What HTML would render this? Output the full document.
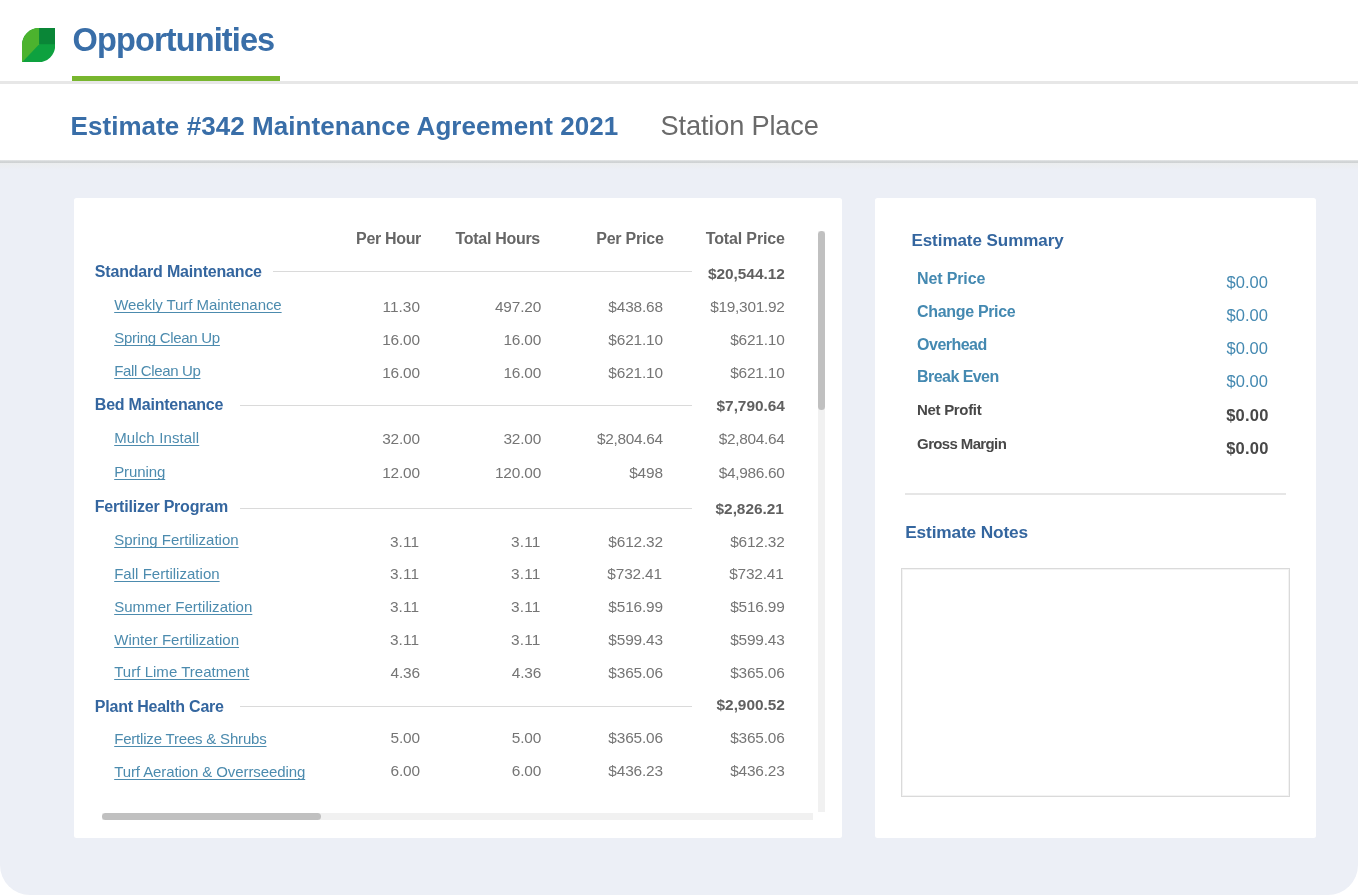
<!DOCTYPE html>
<html lang="en">
<head>
<meta charset="utf-8">
<title>Opportunities</title>
<style>
html,body{margin:0;padding:0;}
body{width:1358px;height:895px;position:relative;overflow:hidden;background:#fff;font-family:"Liberation Sans",sans-serif;}
.abs{position:absolute;}
.t{position:absolute;white-space:pre;display:block;}
a.t{text-decoration-skip-ink:none;}
#bg{left:0;top:162px;width:1358px;height:733px;background:#eceff6;border-radius:0 0 30px 30px;}
#hline1{left:0;top:81.4px;width:1358px;height:2.2px;background:#e7e7e7;}
#gbar{left:72px;top:76px;width:208px;height:5px;background:#78b62e;}
#hline2{left:0;top:160.2px;width:1358px;height:2.7px;background:linear-gradient(#e6e8e9,#d1d4d5 55%,#cfd2d3);}
#hshadow{left:0;top:162.8px;width:1358px;height:7px;background:linear-gradient(#ebedee,#eceff6);}
.card{background:#fff;border-radius:2.5px;}
#card1{left:73.6px;top:197.7px;width:768.5px;height:640.2px;}
#card2{left:875px;top:197.7px;width:441.3px;height:640.2px;}
.hl{height:1.1px;background:#dadada;}
#vtrack{left:818px;top:231px;width:7px;height:581px;background:#f1f1f1;}
#vthumb{left:818px;top:231px;width:7px;height:179px;background:#c0c0c0;border-radius:3.5px;}
#htrack{left:102px;top:812.6px;width:710.5px;height:7px;background:#f1f1f1;}
#hthumb{left:102px;top:812.6px;width:218.7px;height:7px;background:#c0c0c0;border-radius:3.5px;}
#div{left:905px;top:493px;width:381px;height:2px;background:#e6e6e6;}
#notes{left:900.5px;top:568.3px;width:389.6px;height:228.6px;box-sizing:border-box;border:1px solid #dadada;box-shadow:inset 0 0 0 1px #f3f3f3;background:#fff;}
</style>
</head>
<body>
<div id="bg" class="abs"></div>
<div id="hline1" class="abs"></div>
<div id="gbar" class="abs"></div>
<div id="hline2" class="abs"></div>
<div id="hshadow" class="abs"></div>
<svg class="abs" style="left:21.7px;top:27.7px" width="33.2" height="34.4" viewBox="0 0 33.2 34.4">
  <defs><clipPath id="leaf"><path d="M0 34.4 V17 A17 17 0 0 1 17 0 H33.2 V17.4 A17 17 0 0 1 16.2 34.4 Z"/></clipPath></defs>
  <g clip-path="url(#leaf)">
    <rect width="33.2" height="34.4" fill="#0ea13f"/>
    <polygon points="0,0 17.2,0 17.2,16.2 0,34.4" fill="#4cb32e"/>
    <rect x="17.2" y="0" width="16" height="16.2" fill="#0a8637"/>
  </g>
</svg>
<div id="card1" class="abs card"></div>
<div id="card2" class="abs card"></div>
<div class="abs hl" style="left:272.8px;top:271.2px;width:419px"></div>
<div class="abs hl" style="left:240px;top:404.9px;width:451.8px"></div>
<div class="abs hl" style="left:240px;top:508.4px;width:451.8px"></div>
<div class="abs hl" style="left:240px;top:706px;width:451.8px"></div>
<div id="vtrack" class="abs"></div>
<div id="vthumb" class="abs"></div>
<div id="htrack" class="abs"></div>
<div id="hthumb" class="abs"></div>
<div id="div" class="abs"></div>
<div id="notes" class="abs"></div>
<span class="t" style="top:20.54px;font-size:32.5px;font-weight:700;color:#396ea8;line-height:39px;letter-spacing:-0.871px;left:72.60px;">Opportunities</span>
<span class="t" style="top:110.89px;font-size:26px;font-weight:700;color:#396ea8;line-height:31px;letter-spacing:0.064px;left:70.50px;">Estimate #342 Maintenance Agreement 2021</span>
<span class="t" style="top:109.08px;font-size:27.2px;font-weight:400;color:#6a6a6a;line-height:33px;letter-spacing:-0.160px;left:660.60px;">Station Place</span>
<span class="t" style="top:228.86px;font-size:16px;font-weight:700;color:#666666;line-height:19px;letter-spacing:-0.340px;right:937.04px;">Per Hour</span>
<span class="t" style="top:228.86px;font-size:16px;font-weight:700;color:#666666;line-height:19px;letter-spacing:-0.300px;right:818.10px;">Total Hours</span>
<span class="t" style="top:228.86px;font-size:16px;font-weight:700;color:#666666;line-height:19px;letter-spacing:-0.224px;right:694.42px;">Per Price</span>
<span class="t" style="top:228.86px;font-size:16px;font-weight:700;color:#666666;line-height:19px;letter-spacing:-0.153px;right:573.25px;">Total Price</span>
<span class="t" style="top:262.36px;font-size:16px;font-weight:700;color:#34669f;line-height:19px;letter-spacing:-0.184px;left:94.80px;">Standard Maintenance</span>
<span class="t" style="top:265.11px;font-size:15.4px;font-weight:700;color:#606060;line-height:18px;letter-spacing:-0.023px;right:573.22px;">$20,544.12</span>
<a class="t" style="top:296.10px;font-size:15px;font-weight:400;color:#4c8bae;line-height:18px;letter-spacing:-0.067px;left:114.20px;text-decoration:underline;text-decoration-thickness:1px;text-underline-offset:2px;">Weekly Turf Maintenance</a>
<span class="t" style="top:297.66px;font-size:15.4px;font-weight:400;color:#757575;line-height:18px;letter-spacing:0.053px;right:937.95px;">11.30</span>
<span class="t" style="top:297.66px;font-size:15.4px;font-weight:400;color:#757575;line-height:18px;letter-spacing:-0.170px;right:816.97px;">497.20</span>
<span class="t" style="top:297.66px;font-size:15.4px;font-weight:400;color:#757575;line-height:18px;letter-spacing:-0.165px;right:695.17px;">$438.68</span>
<span class="t" style="top:297.66px;font-size:15.4px;font-weight:400;color:#757575;line-height:18px;letter-spacing:-0.276px;right:573.48px;">$19,301.92</span>
<a class="t" style="top:329.30px;font-size:15px;font-weight:400;color:#4c8bae;line-height:18px;letter-spacing:-0.290px;left:114.20px;text-decoration:underline;text-decoration-thickness:1px;text-underline-offset:2px;">Spring Clean Up</a>
<span class="t" style="top:330.66px;font-size:15.4px;font-weight:400;color:#757575;line-height:18px;letter-spacing:-0.176px;right:938.18px;">16.00</span>
<span class="t" style="top:330.66px;font-size:15.4px;font-weight:400;color:#757575;line-height:18px;letter-spacing:-0.176px;right:816.98px;">16.00</span>
<span class="t" style="top:330.66px;font-size:15.4px;font-weight:400;color:#757575;line-height:18px;letter-spacing:-0.165px;right:695.17px;">$621.10</span>
<span class="t" style="top:330.66px;font-size:15.4px;font-weight:400;color:#757575;line-height:18px;letter-spacing:-0.165px;right:573.37px;">$621.10</span>
<a class="t" style="top:362.00px;font-size:15px;font-weight:400;color:#4c8bae;line-height:18px;letter-spacing:-0.356px;left:114.20px;text-decoration:underline;text-decoration-thickness:1px;text-underline-offset:2px;">Fall Clean Up</a>
<span class="t" style="top:363.56px;font-size:15.4px;font-weight:400;color:#757575;line-height:18px;letter-spacing:-0.176px;right:938.18px;">16.00</span>
<span class="t" style="top:363.56px;font-size:15.4px;font-weight:400;color:#757575;line-height:18px;letter-spacing:-0.176px;right:816.98px;">16.00</span>
<span class="t" style="top:363.56px;font-size:15.4px;font-weight:400;color:#757575;line-height:18px;letter-spacing:-0.165px;right:695.17px;">$621.10</span>
<span class="t" style="top:363.56px;font-size:15.4px;font-weight:400;color:#757575;line-height:18px;letter-spacing:-0.165px;right:573.37px;">$621.10</span>
<span class="t" style="top:395.26px;font-size:16px;font-weight:700;color:#34669f;line-height:19px;letter-spacing:-0.214px;left:94.80px;">Bed Maintenance</span>
<span class="t" style="top:397.21px;font-size:15.4px;font-weight:700;color:#606060;line-height:18px;letter-spacing:-0.028px;right:573.23px;">$7,790.64</span>
<a class="t" style="top:429.00px;font-size:15px;font-weight:400;color:#4c8bae;line-height:18px;letter-spacing:0.127px;left:114.20px;text-decoration:underline;text-decoration-thickness:1px;text-underline-offset:2px;">Mulch Install</a>
<span class="t" style="top:430.31px;font-size:15.4px;font-weight:400;color:#757575;line-height:18px;letter-spacing:-0.176px;right:938.18px;">32.00</span>
<span class="t" style="top:430.31px;font-size:15.4px;font-weight:400;color:#757575;line-height:18px;letter-spacing:-0.176px;right:816.98px;">32.00</span>
<span class="t" style="top:430.31px;font-size:15.4px;font-weight:400;color:#757575;line-height:18px;letter-spacing:-0.293px;right:695.29px;">$2,804.64</span>
<span class="t" style="top:430.31px;font-size:15.4px;font-weight:400;color:#757575;line-height:18px;letter-spacing:-0.293px;right:573.49px;">$2,804.64</span>
<a class="t" style="top:462.80px;font-size:15px;font-weight:400;color:#4c8bae;line-height:18px;letter-spacing:-0.101px;left:114.20px;text-decoration:underline;text-decoration-thickness:1px;text-underline-offset:2px;">Pruning</a>
<span class="t" style="top:464.41px;font-size:15.4px;font-weight:400;color:#757575;line-height:18px;letter-spacing:-0.176px;right:938.18px;">12.00</span>
<span class="t" style="top:464.41px;font-size:15.4px;font-weight:400;color:#757575;line-height:18px;letter-spacing:-0.170px;right:816.97px;">120.00</span>
<span class="t" style="top:464.41px;font-size:15.4px;font-weight:400;color:#757575;line-height:18px;letter-spacing:-0.140px;right:695.14px;">$498</span>
<span class="t" style="top:464.41px;font-size:15.4px;font-weight:400;color:#757575;line-height:18px;letter-spacing:-0.293px;right:573.49px;">$4,986.60</span>
<span class="t" style="top:497.26px;font-size:16px;font-weight:700;color:#34669f;line-height:19px;letter-spacing:-0.208px;left:94.80px;">Fertilizer Program</span>
<span class="t" style="top:499.61px;font-size:15.4px;font-weight:700;color:#606060;line-height:18px;letter-spacing:-0.028px;right:574.23px;">$2,826.21</span>
<a class="t" style="top:531.30px;font-size:15px;font-weight:400;color:#4c8bae;line-height:18px;letter-spacing:0.010px;left:114.20px;text-decoration:underline;text-decoration-thickness:1px;text-underline-offset:2px;">Spring Fertilization</a>
<span class="t" style="top:533.41px;font-size:15.4px;font-weight:400;color:#757575;line-height:18px;letter-spacing:0.101px;right:938.90px;">3.11</span>
<span class="t" style="top:533.41px;font-size:15.4px;font-weight:400;color:#757575;line-height:18px;letter-spacing:0.101px;right:817.70px;">3.11</span>
<span class="t" style="top:533.41px;font-size:15.4px;font-weight:400;color:#757575;line-height:18px;letter-spacing:-0.165px;right:695.17px;">$612.32</span>
<span class="t" style="top:533.41px;font-size:15.4px;font-weight:400;color:#757575;line-height:18px;letter-spacing:-0.165px;right:573.37px;">$612.32</span>
<a class="t" style="top:564.70px;font-size:15px;font-weight:400;color:#4c8bae;line-height:18px;letter-spacing:0.022px;left:114.20px;text-decoration:underline;text-decoration-thickness:1px;text-underline-offset:2px;">Fall Fertilization</a>
<span class="t" style="top:564.71px;font-size:15.4px;font-weight:400;color:#757575;line-height:18px;letter-spacing:0.101px;right:938.90px;">3.11</span>
<span class="t" style="top:564.71px;font-size:15.4px;font-weight:400;color:#757575;line-height:18px;letter-spacing:0.101px;right:817.70px;">3.11</span>
<span class="t" style="top:564.71px;font-size:15.4px;font-weight:400;color:#757575;line-height:18px;letter-spacing:-0.165px;right:696.17px;">$732.41</span>
<span class="t" style="top:564.71px;font-size:15.4px;font-weight:400;color:#757575;line-height:18px;letter-spacing:-0.165px;right:574.37px;">$732.41</span>
<a class="t" style="top:597.80px;font-size:15px;font-weight:400;color:#4c8bae;line-height:18px;letter-spacing:0.029px;left:114.20px;text-decoration:underline;text-decoration-thickness:1px;text-underline-offset:2px;">Summer Fertilization</a>
<span class="t" style="top:597.71px;font-size:15.4px;font-weight:400;color:#757575;line-height:18px;letter-spacing:0.101px;right:938.90px;">3.11</span>
<span class="t" style="top:597.71px;font-size:15.4px;font-weight:400;color:#757575;line-height:18px;letter-spacing:0.101px;right:817.70px;">3.11</span>
<span class="t" style="top:597.71px;font-size:15.4px;font-weight:400;color:#757575;line-height:18px;letter-spacing:-0.165px;right:695.17px;">$516.99</span>
<span class="t" style="top:597.71px;font-size:15.4px;font-weight:400;color:#757575;line-height:18px;letter-spacing:-0.165px;right:573.37px;">$516.99</span>
<a class="t" style="top:630.60px;font-size:15px;font-weight:400;color:#4c8bae;line-height:18px;letter-spacing:0.031px;left:114.20px;text-decoration:underline;text-decoration-thickness:1px;text-underline-offset:2px;">Winter Fertilization</a>
<span class="t" style="top:630.71px;font-size:15.4px;font-weight:400;color:#757575;line-height:18px;letter-spacing:0.101px;right:938.90px;">3.11</span>
<span class="t" style="top:630.71px;font-size:15.4px;font-weight:400;color:#757575;line-height:18px;letter-spacing:0.101px;right:817.70px;">3.11</span>
<span class="t" style="top:630.71px;font-size:15.4px;font-weight:400;color:#757575;line-height:18px;letter-spacing:-0.165px;right:695.17px;">$599.43</span>
<span class="t" style="top:630.71px;font-size:15.4px;font-weight:400;color:#757575;line-height:18px;letter-spacing:-0.165px;right:573.37px;">$599.43</span>
<a class="t" style="top:663.10px;font-size:15px;font-weight:400;color:#4c8bae;line-height:18px;letter-spacing:0.033px;left:114.20px;text-decoration:underline;text-decoration-thickness:1px;text-underline-offset:2px;">Turf Lime Treatment</a>
<span class="t" style="top:663.71px;font-size:15.4px;font-weight:400;color:#757575;line-height:18px;letter-spacing:-0.188px;right:938.19px;">4.36</span>
<span class="t" style="top:663.71px;font-size:15.4px;font-weight:400;color:#757575;line-height:18px;letter-spacing:-0.188px;right:816.99px;">4.36</span>
<span class="t" style="top:663.71px;font-size:15.4px;font-weight:400;color:#757575;line-height:18px;letter-spacing:-0.165px;right:695.17px;">$365.06</span>
<span class="t" style="top:663.71px;font-size:15.4px;font-weight:400;color:#757575;line-height:18px;letter-spacing:-0.165px;right:573.37px;">$365.06</span>
<span class="t" style="top:696.86px;font-size:16px;font-weight:700;color:#34669f;line-height:19px;letter-spacing:-0.205px;left:94.80px;">Plant Health Care</span>
<span class="t" style="top:696.21px;font-size:15.4px;font-weight:700;color:#606060;line-height:18px;letter-spacing:-0.028px;right:573.23px;">$2,900.52</span>
<a class="t" style="top:729.80px;font-size:15px;font-weight:400;color:#4c8bae;line-height:18px;letter-spacing:-0.192px;left:114.20px;text-decoration:underline;text-decoration-thickness:1px;text-underline-offset:2px;">Fertlize Trees &amp; Shrubs</a>
<span class="t" style="top:729.21px;font-size:15.4px;font-weight:400;color:#757575;line-height:18px;letter-spacing:-0.188px;right:938.19px;">5.00</span>
<span class="t" style="top:729.21px;font-size:15.4px;font-weight:400;color:#757575;line-height:18px;letter-spacing:-0.188px;right:816.99px;">5.00</span>
<span class="t" style="top:729.21px;font-size:15.4px;font-weight:400;color:#757575;line-height:18px;letter-spacing:-0.165px;right:695.17px;">$365.06</span>
<span class="t" style="top:729.21px;font-size:15.4px;font-weight:400;color:#757575;line-height:18px;letter-spacing:-0.165px;right:573.37px;">$365.06</span>
<a class="t" style="top:762.60px;font-size:15px;font-weight:400;color:#4c8bae;line-height:18px;letter-spacing:-0.097px;left:114.20px;text-decoration:underline;text-decoration-thickness:1px;text-underline-offset:2px;">Turf Aeration &amp; Overrseeding</a>
<span class="t" style="top:761.91px;font-size:15.4px;font-weight:400;color:#757575;line-height:18px;letter-spacing:-0.188px;right:938.19px;">6.00</span>
<span class="t" style="top:761.91px;font-size:15.4px;font-weight:400;color:#757575;line-height:18px;letter-spacing:-0.188px;right:816.99px;">6.00</span>
<span class="t" style="top:761.91px;font-size:15.4px;font-weight:400;color:#757575;line-height:18px;letter-spacing:-0.165px;right:695.17px;">$436.23</span>
<span class="t" style="top:761.91px;font-size:15.4px;font-weight:400;color:#757575;line-height:18px;letter-spacing:-0.165px;right:573.37px;">$436.23</span>
<span class="t" style="top:230.51px;font-size:17px;font-weight:700;color:#34669f;line-height:20px;letter-spacing:-0.045px;left:911.40px;">Estimate Summary</span>
<span class="t" style="top:268.66px;font-size:16px;font-weight:700;color:#4489b1;line-height:19px;letter-spacing:-0.147px;left:917.10px;">Net Price</span>
<span class="t" style="top:301.66px;font-size:16px;font-weight:700;color:#4489b1;line-height:19px;letter-spacing:-0.333px;left:917.10px;">Change Price</span>
<span class="t" style="top:334.56px;font-size:16px;font-weight:700;color:#4489b1;line-height:19px;letter-spacing:-0.530px;left:917.10px;">Overhead</span>
<span class="t" style="top:367.16px;font-size:16px;font-weight:700;color:#4489b1;line-height:19px;letter-spacing:-0.564px;left:917.10px;">Break Even</span>
<span class="t" style="top:401.20px;font-size:15px;font-weight:700;color:#484848;line-height:18px;letter-spacing:-0.322px;left:917.10px;">Net Profit</span>
<span class="t" style="top:434.50px;font-size:15px;font-weight:700;color:#484848;line-height:18px;letter-spacing:-0.635px;left:917.10px;">Gross Margin</span>
<span class="t" style="top:271.58px;font-size:16.5px;font-weight:400;color:#4489b1;line-height:20px;letter-spacing:0.076px;right:89.92px;">$0.00</span>
<span class="t" style="top:304.58px;font-size:16.5px;font-weight:400;color:#4489b1;line-height:20px;letter-spacing:0.076px;right:89.92px;">$0.00</span>
<span class="t" style="top:337.58px;font-size:16.5px;font-weight:400;color:#4489b1;line-height:20px;letter-spacing:0.076px;right:89.92px;">$0.00</span>
<span class="t" style="top:370.88px;font-size:16.5px;font-weight:400;color:#4489b1;line-height:20px;letter-spacing:0.076px;right:89.92px;">$0.00</span>
<span class="t" style="top:405.08px;font-size:16.5px;font-weight:700;color:#484848;line-height:20px;letter-spacing:0.226px;right:89.37px;">$0.00</span>
<span class="t" style="top:438.28px;font-size:16.5px;font-weight:700;color:#484848;line-height:20px;letter-spacing:0.226px;right:89.37px;">$0.00</span>
<span class="t" style="top:522.41px;font-size:17.3px;font-weight:700;color:#34669f;line-height:21px;letter-spacing:-0.151px;left:905.20px;">Estimate Notes</span>
</body>
</html>
